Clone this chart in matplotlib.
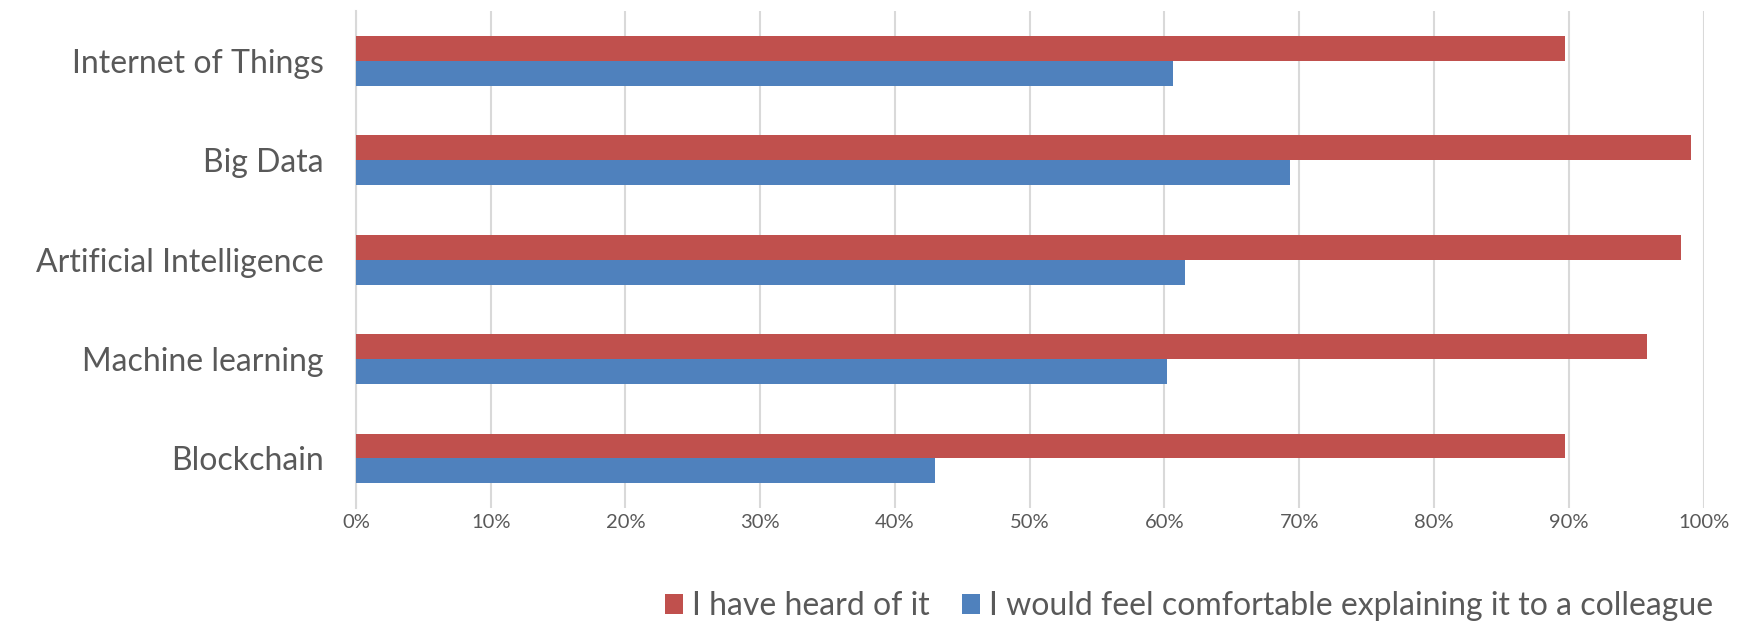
import matplotlib.pyplot as plt
import numpy as np
from matplotlib.ticker import FuncFormatter

# survey results, top to bottom as shown
categories = ['Internet of Things', 'Big Data', 'Artificial Intelligence',
              'Machine learning', 'Blockchain']
heard = [89.7, 99.1, 98.3, 95.8, 89.7]
explain = [60.6, 69.3, 61.5, 60.2, 43.0]
labels = ['I have heard of it', 'I would feel comfortable explaining it to a colleague']

plt.rcParams['font.family'] = ['Lato', 'DejaVu Sans']
txt = '#595959'

fig = plt.figure(figsize=(17.49, 6.25), dpi=100)
ax = fig.add_axes([0.2035, 0.187, 0.7705, 0.795])

y = np.arange(len(categories))
bh = 0.25
ax.barh(y - bh/2, heard, height=bh, color='#C0504D', label=labels[0], zorder=3)
ax.barh(y + bh/2, explain, height=bh, color='#4F81BD', label=labels[1], zorder=3)

ax.set_xlim(0, 100)
ax.set_ylim(len(categories) - 0.5, -0.5)
ax.set_xticks(np.arange(0, 101, 10))
ax.xaxis.set_major_formatter(FuncFormatter(lambda v, p: '%d%%' % v))
ax.set_yticks(y)
ax.set_yticklabels(categories, fontsize=23, color=txt)
ax.tick_params(axis='x', length=0, pad=4, labelsize=14.5, labelcolor=txt)
ax.tick_params(axis='y', length=0, pad=23)
ax.grid(axis='x', color='#D9D9D9', linewidth=1.5, zorder=0)
for s in ['top', 'right', 'bottom']:
    ax.spines[s].set_visible(False)
ax.spines['left'].set_color('#D9D9D9')
ax.spines['left'].set_linewidth(1.5)

fig.legend(loc='center', bbox_to_anchor=(0.68, 0.03), ncol=2, frameon=False,
           fontsize=23, labelcolor=txt, handlelength=0.55, handleheight=0.6,
           handletextpad=0.3, columnspacing=1.0)

plt.savefig('out.png', dpi=100)
